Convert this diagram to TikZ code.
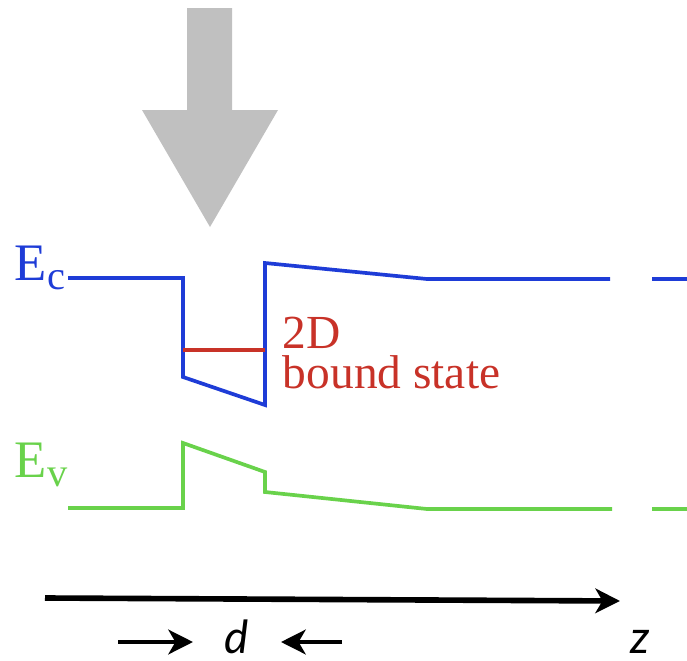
\documentclass[tikz,border=0pt]{standalone}
\usepackage{fontspec}
\setmainfont{Liberation Serif}
\newfontfamily\axisfont{Lato}
\usetikzlibrary{arrows.meta}
\definecolor{cband}{RGB}{30,60,215}
\definecolor{vband}{RGB}{105,210,75}
\definecolor{bstate}{RGB}{200,50,40}
\definecolor{lightgray}{RGB}{192,192,192}
\begin{document}
\begin{tikzpicture}[x=0.02cm, y=-0.02cm, line width=2.1pt,
  >={Stealth[length=14pt,width=14pt,inset=4pt]}]
  \useasboundingbox (0,0) rectangle (687,660);
  % incoming light
  \fill[lightgray] (187,8) -- (232,8) -- (232,110) -- (278,110) -- (210,227)
    -- (142,110) -- (187,110) -- cycle;
  % conduction band
  \node[cband, anchor=base west, inner sep=0pt, font=\fontsize{30}{30}\selectfont]
    (Ec) at (13,280) {E\raisebox{-5.5pt}{\fontsize{23}{23}\selectfont c}};
  \draw[cband] (68,278) -- (183,278) -- (183,377) -- (265,405) -- (265,263)
    -- (427,279) -- (610,279);
  \draw[cband] (652,279) -- (687,279);
  \draw[bstate] (183,350) -- (265,350);
  \node[bstate, anchor=base west, inner sep=0pt, font=\fontsize{27}{27}\selectfont]
    (twoD) at (281,348) {2D};
  \node[bstate, anchor=base west, inner sep=0pt, font=\fontsize{27}{27}\selectfont]
    (bound) at (281,388) {bound state};
  % valence band
  \node[vband, anchor=base west, inner sep=0pt, font=\fontsize{30}{30}\selectfont]
    (Ev) at (13,477) {E\raisebox{-5.5pt}{\fontsize{23}{23}\selectfont v}};
  \draw[vband] (68,508) -- (183,508) -- (183,443) -- (265,472) -- (265,492)
    -- (427,509) -- (612,509);
  \draw[vband] (652,509) -- (687,509);
  % axis
  \coordinate (z0) at (45,598);
  \coordinate (z1) at (620,601);
  \draw[->, line width=3.2pt] (z0) -- (z1);
  \node[anchor=base, inner sep=0pt, font=\axisfont\itshape\fontsize{26}{26}\selectfont] (z) at (640,653) {z};
  \node[anchor=base, inner sep=0pt, font=\axisfont\itshape\fontsize{26}{26}\selectfont] (d) at (237,653) {d};
  \coordinate (dL) at (118,642);
  \coordinate (dLtip) at (193,642);
  \coordinate (dR) at (342,642);
  \coordinate (dRtip) at (281,642);
  \draw[->, line width=2.5pt] (dL) -- (dLtip);
  \draw[->, line width=2.5pt] (dR) -- (dRtip);
\end{tikzpicture}
\end{document}
